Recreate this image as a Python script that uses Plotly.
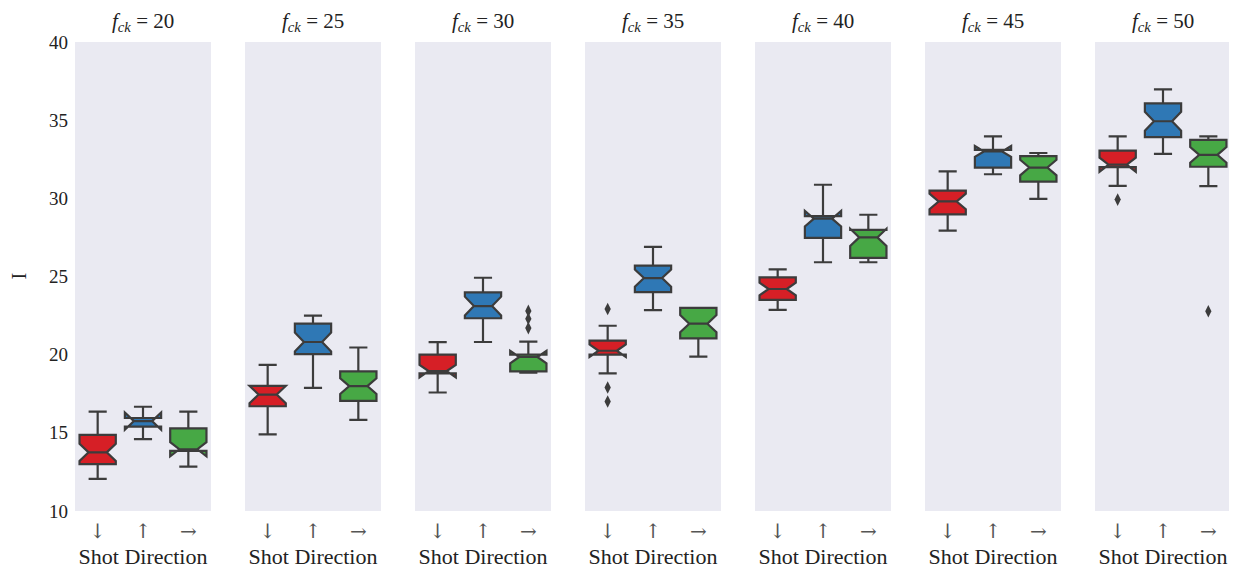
import plotly.graph_objects as go

# ---------------- data ----------------
fck = [20, 25, 30, 35, 40, 45, 50]
directions = ["↓", "↑", "→"]

# shot direction ↓ (red)
down_lower = [12.05, 14.9, 17.58, 18.8, 22.87, 27.93, 30.8]
down_q1 = [13.0, 16.7, 18.8, 20.0, 23.5, 28.98, 32.0]
down_median = [13.75, 17.45, 18.95, 20.25, 24.2, 29.8, 32.15]
down_q3 = [14.87, 18.0, 20.0, 20.9, 24.95, 30.49, 33.05]
down_upper = [16.36, 19.35, 20.8, 21.85, 25.46, 31.73, 33.96]
down_notch = [0.55, 0.55, 0.4, 0.4, 0.4, 0.5, 0.45]
down_outliers = [[], [], [], [22.92, 17.9, 17.0], [], [], [29.92]]

# shot direction ↑ (blue)
up_lower = [14.6, 17.87, 20.81, 22.85, 25.91, 31.54, 32.84]
up_q1 = [15.4, 20.03, 22.33, 24.0, 27.47, 31.97, 33.92]
up_median = [15.75, 20.81, 23.11, 24.9, 28.7, 33.0, 34.93]
up_q3 = [15.95, 21.98, 23.98, 25.7, 28.86, 33.1, 36.07]
up_upper = [16.67, 22.5, 24.92, 26.9, 30.87, 33.96, 36.97]
up_notch = [0.55, 0.6, 0.6, 0.55, 0.5, 0.35, 0.6]
up_outliers = [[], [], [], [], [], [], []]

# shot direction → (green)
right_lower = [12.84, 15.83, 18.85, 19.87, 25.91, 29.97, 30.78]
right_q1 = [13.85, 17.05, 18.93, 21.04, 26.19, 31.07, 32.02]
right_median = [13.95, 17.99, 19.85, 21.98, 27.5, 31.97, 32.78]
right_q3 = [15.29, 18.93, 20.0, 22.99, 27.98, 32.7, 33.74]
right_upper = [16.36, 20.46, 20.84, 22.99, 28.95, 32.9, 33.96]
right_notch = [0.45, 0.5, 0.4, 0.55, 0.55, 0.5, 0.5]
right_outliers = [[], [], [22.8, 22.3, 21.7], [], [], [], [22.78]]

series = [
    ("↓", "#d61f26", down_lower, down_q1, down_median, down_q3, down_upper, down_notch, down_outliers),
    ("↑", "#2f78b5", up_lower, up_q1, up_median, up_q3, up_upper, up_notch, up_outliers),
    ("→", "#47a845", right_lower, right_q1, right_median, right_q3, right_upper, right_notch, right_outliers),
]

# ---------------- layout geometry ----------------
# page body has an 8px default margin, so the figure is drawn 8px in from the top-left
W, H = 1229, 566
ML, MR, MT, MB = 67, 6, 34, 63
PW = W - ML - MR
panel_w, period = 136, 170

LINE = "#3c3c3c"
SERIF = "Liberation Serif, Times New Roman, serif"

fig = go.Figure()
layout_axes = {}

for i, f in enumerate(fck):
    xa = "x" if i == 0 else f"x{i+1}"
    ya = "y" if i == 0 else f"y{i+1}"
    for j, (name, color, lo, q1, med, q3, up, notch, outl) in enumerate(series):
        fig.add_trace(go.Box(
            x=[j], q1=[q1[i]], median=[med[i]], q3=[q3[i]],
            lowerfence=[lo[i]], upperfence=[up[i]], notchspan=[notch[i]],
            notched=True, notchwidth=0.25, width=0.8, whiskerwidth=0.5,
            fillcolor=color, line=dict(color=LINE, width=2.2),
            boxpoints=False, showlegend=False, xaxis=xa, yaxis=ya,
            hoverinfo="skip",
        ))
        if outl[i]:
            fig.add_trace(go.Scatter(
                x=[j] * len(outl[i]), y=outl[i], mode="markers",
                marker=dict(symbol="diamond-tall", size=9, color=LINE),
                showlegend=False, xaxis=xa, yaxis=ya, hoverinfo="skip",
            ))
    x0 = (period * i) / PW
    x1 = (period * i + panel_w) / PW
    key_x = "xaxis" if i == 0 else f"xaxis{i+1}"
    key_y = "yaxis" if i == 0 else f"yaxis{i+1}"
    layout_axes[key_x] = dict(
        domain=[x0, x1], range=[-0.5, 2.5], anchor=ya, automargin=False,
        tickmode="array", tickvals=[0, 1, 2], ticktext=directions,
        showgrid=False, zeroline=False, showline=False, ticks="",
        tickfont=dict(family="DejaVu Serif, DejaVu Sans", size=20, color="#555555"),
        ticklabelstandoff=6,
        title=dict(text="Shot Direction", font=dict(family=SERIF, size=22, color="#222222"), standoff=6),
    )
    layout_axes[key_y] = dict(
        domain=[0, 1], range=[10, 40], anchor=xa, automargin=False,
        tickmode="array", tickvals=[10, 15, 20, 25, 30, 35, 40],
        showticklabels=(i == 0), showgrid=False, zeroline=False, showline=False, ticks="",
        tickfont=dict(family=SERIF, size=19, color="#222222"),
        ticklabelstandoff=6,
    )
    if i > 0:
        layout_axes[key_y]["matches"] = "y"

annotations = []
for i, f in enumerate(fck):
    xc = (period * i + panel_w / 2) / PW
    annotations.append(dict(
        text=f"<i>f</i><sub><i>ck</i></sub> = {f}", x=xc, y=1.0, xref="paper", yref="paper",
        xanchor="center", yanchor="bottom", yshift=5, showarrow=False,
        font=dict(family=SERIF, size=21, color="#222222"),
    ))
annotations.append(dict(
    text="I", x=(10 - ML) / PW, y=0.5, xref="paper", yref="paper",
    xanchor="center", yanchor="middle",
    textangle=-90, showarrow=False, font=dict(family=SERIF, size=20, color="#222222"),
))

fig.update_layout(
    width=W, height=H,
    margin=dict(l=ML, r=MR, t=MT, b=MB, autoexpand=False),
    paper_bgcolor="white", plot_bgcolor="#eaeaf2",
    annotations=annotations,
    **layout_axes,
)

fig.write_html("out.html")
